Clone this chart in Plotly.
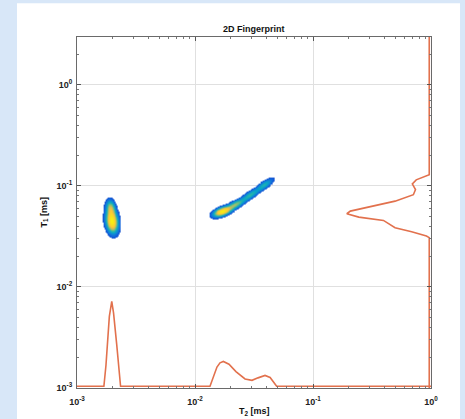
import numpy as np
import plotly.graph_objects as go

# ---------------- data ----------------
# T2 projection (bottom): T2 [ms] and relative amplitude
t2_proj_ms = [0.001, 0.00169, 0.00176, 0.00181, 0.00188, 0.00197, 0.00204, 0.00217,
              0.00226, 0.00234, 0.0134, 0.01422, 0.01535, 0.01629, 0.01738, 0.01941,
              0.02223, 0.02655, 0.0304, 0.0342, 0.0392, 0.0433, 0.0467, 0.0492, 1.0]
t2_proj_amp = [0.0, 0.0, 0.06, 0.12, 0.20, 0.243, 0.21, 0.12,
               0.05, 0.0, 0.0, 0.025, 0.055, 0.067, 0.071, 0.063,
               0.042, 0.021, 0.017, 0.024, 0.031, 0.025, 0.010, 0.0, 0.0]

# T1 projection (right): T1 [ms] and relative amplitude
t1_proj_ms = [0.001, 0.0308, 0.0320, 0.0353, 0.0386, 0.0433, 0.0456, 0.0492, 0.0531,
              0.0564, 0.0631, 0.0708, 0.082, 0.092, 0.105, 0.115, 0.129, 3.0]
t1_proj_amp = [0.0, 0.0, 0.008, 0.05, 0.097, 0.121, 0.13, 0.20, 0.234,
               0.224, 0.164, 0.097, 0.045, 0.039, 0.048, 0.037, 0.0, 0.0]

# 2D map peak components (log10 T2, log10 T1, amplitude, spread along / across, orientation)
peak_log_t2 = [-2.703, -2.715, -1.770, -1.655, -1.530, -1.410]
peak_log_t1 = [-1.350, -1.210, -1.255, -1.185, -1.090, -0.990]
peak_amp = [1.00, 0.45, 0.95, 0.50, 0.38, 0.36]
peak_sigma_along = [0.075, 0.050, 0.052, 0.058, 0.058, 0.058]
peak_sigma_across = [0.033, 0.025, 0.026, 0.023, 0.022, 0.022]
peak_angle_deg = [95.7, 96.0, 25.0, 33.0, 38.0, 40.0]
map_threshold = 0.07

x_tick_vals = [1e-3, 1e-2, 1e-1, 1e0]
x_tick_text = ["10<sup>-3</sup>", "10<sup>-2</sup>", "10<sup>-1</sup>", "10<sup>0</sup>"]
y_tick_vals = [1e-3, 1e-2, 1e-1, 1e0]
y_tick_text = ["10<sup>-3</sup>", "10<sup>-2</sup>", "10<sup>-1</sup>", "10<sup>0</sup>"]

# ---------------- build the 2D map ----------------
lx = np.linspace(-2.9, -1.2, 520)
ly = np.linspace(-1.7, -0.75, 260)
LX, LY = np.meshgrid(lx, ly)
Z = np.zeros_like(LX)
for cx, cy, a, sa, sc, ang in zip(peak_log_t2, peak_log_t1, peak_amp,
                                  peak_sigma_along, peak_sigma_across, peak_angle_deg):
    th = np.deg2rad(ang)
    dx, dy = LX - cx, LY - cy
    u = dx * np.cos(th) + dy * np.sin(th)
    v = -dx * np.sin(th) + dy * np.cos(th)
    Z += a * np.exp(-0.5 * (u / sa) ** 2 - 0.5 * (v / sc) ** 2)
Z = Z / Z.max()
Zs = np.round(Z, 3).astype(object)
Zs[Z < map_threshold] = None

parula = [
    [0.00, "#2a2f95"], [0.10, "#0f5cdd"], [0.20, "#1481d6"], [0.30, "#06a4ca"],
    [0.40, "#2eb7a4"], [0.50, "#87bf77"], [0.60, "#d1bb59"], [0.72, "#fec832"],
    [0.86, "#f5de24"], [1.00, "#f9f20e"],
]

line_col = "#e2714d"
font_fam = "Liberation Sans, Arial, sans-serif"

fig = go.Figure()
fig.add_trace(go.Heatmap(
    x=10 ** lx, y=10 ** ly, z=Zs.tolist(), colorscale=parula, zmin=0.0, zmax=1.0,
    showscale=False, hoverongaps=False, xaxis="x", yaxis="y"))
fig.add_trace(go.Scatter(
    x=t2_proj_ms, y=t2_proj_amp, mode="lines", xaxis="x", yaxis="y2",
    line=dict(color=line_col, width=1.6)))
fig.add_trace(go.Scatter(
    x=t1_proj_amp, y=t1_proj_ms, mode="lines", xaxis="x2", yaxis="y",
    line=dict(color=line_col, width=1.6)))

minor_vals = [m * 10.0 ** k for k in range(-3, 1) for m in range(2, 10)]
tick_font = dict(family=font_fam, size=9, color="#222222", weight="bold")
common = dict(
    type="log", showgrid=True, gridcolor="#e0e0e0", gridwidth=1, zeroline=False,
    showline=True, linecolor="#6a6a6a", linewidth=1, mirror="ticks",
    ticks="inside", ticklen=4, tickcolor="#555555", tickfont=tick_font,
    minor=dict(tickmode="array", tickvals=minor_vals, ticks="inside", ticklen=2,
               tickcolor="#777777", showgrid=False),
)

fig.update_layout(
    width=465, height=419,
    margin=dict(l=77, r=34, t=37, b=28),
    paper_bgcolor="#d8e7f8", plot_bgcolor="white",
    showlegend=False,
    xaxis=dict(range=[-3, 0], tickmode="array", tickvals=x_tick_vals, ticktext=x_tick_text,
               ticklabelstandoff=5, **common),
    yaxis=dict(range=[-3, 0.475], tickmode="array", tickvals=y_tick_vals, ticktext=y_tick_text,
               ticklabelstandoff=2, **common),
    xaxis2=dict(overlaying="x", anchor="y", range=[1, -0.005], visible=False),
    yaxis2=dict(overlaying="y", anchor="x", range=[-0.005, 1], visible=False),
    shapes=[dict(type="rect", xref="paper", yref="paper", x0=-0.1695, x1=1.082,
                 y0=-0.3, y1=1.096, fillcolor="white", line=dict(width=0), layer="below")],
    annotations=[
        dict(text="2D Fingerprint", xref="paper", yref="paper", x=0.5, y=1.0226,
             showarrow=False, xanchor="center", yanchor="middle",
             font=dict(family=font_fam, size=9, color="#111111", weight="bold")),
        dict(text="T<sub>2</sub> [ms]", xref="paper", yref="paper", x=0.5, y=-0.066,
             showarrow=False, xanchor="center", yanchor="middle",
             font=dict(family=font_fam, size=9, color="#111111", weight="bold")),
        dict(text="T<sub>1</sub> [ms]", xref="paper", yref="paper", x=-0.093, y=0.5,
             showarrow=False, xanchor="center", yanchor="middle", textangle=-90,
             font=dict(family=font_fam, size=9, color="#111111", weight="bold")),
    ],
)

fig.write_html("out.html", config={"displayModeBar": False},
               post_script="document.body.style.margin='0px';")
